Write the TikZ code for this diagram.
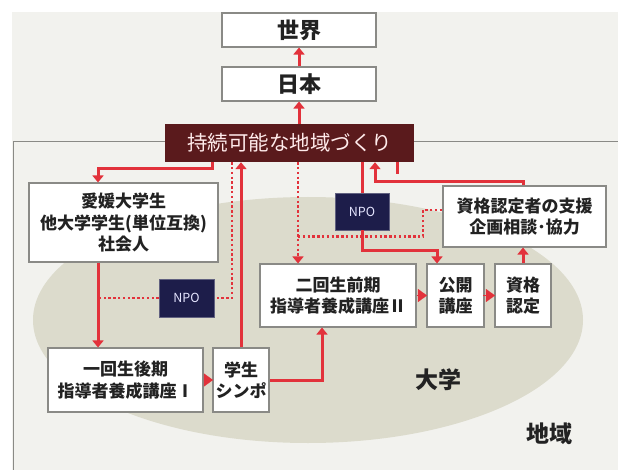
\documentclass[tikz,border=0pt]{standalone}
\usepackage{fontspec}
\setmainfont{Noto Sans CJK JP}
\usetikzlibrary{arrows.meta,calc}
\definecolor{redc}{HTML}{E2323B}
\definecolor{maroon}{HTML}{5A1A1C}
\definecolor{navy}{HTML}{1D1D4A}
\definecolor{bgc}{HTML}{F2F2EE}
\definecolor{ellc}{HTML}{DCDBCC}
\definecolor{boxgray}{HTML}{8A8A86}
\definecolor{txt}{HTML}{222222}
\tikzset{
  box/.style={draw=boxgray, fill=white, line width=1.1pt, inner sep=0pt, align=center,
    text=txt, font=\fontsize{17}{21.5}\selectfont\bfseries},
  bigbox/.style={box, font=\fontsize{22}{26}\selectfont\bfseries},
  susbox/.style={fill=maroon, inner sep=0pt, text=white!92!red, font=\fontsize{20.5}{24}\selectfont},
  npobox/.style={fill=navy, draw=navy!70!white, line width=0.6pt, inner sep=0pt, text=white!90!blue,
    font=\fontsize{12.5}{14}\selectfont},
  redline/.style={draw=redc, line width=3pt},
  arr/.style={redline, -{Triangle[width=11pt,length=7pt]}},
  arrsmall/.style={draw=redc, line width=0.1pt, -{Triangle[width=13pt,length=9pt]}, shorten >=-0.5pt},
  dotline/.style={draw=redc, line width=2.8pt, dash pattern=on 2.4pt off 2.4pt},
  dotarr/.style={dotline, -{Triangle[width=11pt,length=7pt]}},
  lbl/.style={text=txt, font=\fontsize{23}{26}\selectfont\bfseries, inner sep=0pt}
}
\begin{document}
\begin{tikzpicture}[x=1pt,y=-1pt]
\useasboundingbox (0,0) rectangle (618,470);
% background and region
\fill[bgc] (12,12) rectangle (618,470);
\draw[boxgray, line width=1pt] (618,142) -- (13,142) -- (13,470);
\fill[ellc] (308,320) ellipse [x radius=275, y radius=123];

% nodes
\node[bigbox, minimum width=154pt, minimum height=34pt] (world) at (299,30) {世界};
\node[bigbox, minimum width=154pt, minimum height=34pt] (japan) at (299,84) {日本};
\node[susbox, minimum width=249pt, minimum height=38pt] (sus) at (289.5,143) {持続可能な地域づくり};
\node[box, minimum width=189pt, minimum height=79pt] (ehime) at (123.5,222.5) {愛媛大学生\\他大学学生(単位互換)\\社会人};
\node[npobox, minimum width=55pt, minimum height=38pt] (npoa) at (186.5,298) {NPO};
\node[npobox, minimum width=54pt, minimum height=37pt] (npob) at (362,211.5) {NPO};
\node[box, minimum width=155pt, minimum height=64pt] (first) at (125.5,380) {一回生後期\\指導者養成講座Ⅰ};
\node[box, minimum width=56pt, minimum height=64pt] (symp) at (241,380) {学生\\シンポ};
\node[box, minimum width=156pt, minimum height=63pt] (second) at (338,295.5) {二回生前期\\指導者養成講座Ⅱ};
\node[box, minimum width=57pt, minimum height=63pt] (kokai) at (455.5,295.5) {公開\\講座};
\node[box, minimum width=56pt, minimum height=63pt] (shikaku) at (523,295.5) {資格\\認定};
\node[box, minimum width=163pt, minimum height=61pt] (support) at (524.5,216.5) {資格認定者の支援\\企画相談･協力};
\node[lbl] (univ) at (438,380) {大学};
\node[lbl] (region) at (549,434) {地域};

% connectors
\draw[arr] (japan.north) -- (world.south);
\draw[arr] (sus.north -| japan.south) -- (japan.south);
\draw[arr] ($(sus.south)+(-77.5,0)$) -- ++(0,6) -| ($(ehime.north)+(-25.5,0)$);
\draw[arr] ($(ehime.south)+(-25.5,0)$) -- ($(first.north)+(-27.5,0)$);
\draw[arrsmall] (first.east) -- (symp.west);
\draw[arr] (symp.north) -- (symp.north |- sus.south);
\draw[arr] (symp.east) -| ($(second.south)+(-16,0)$);
\draw[arrsmall] (second.east) -- (kokai.west);
\draw[arrsmall] (kokai.west -| shikaku.west) ++(-11,0) -- (shikaku.west);
\draw[arr] (shikaku.north) -- (shikaku.north |- support.south);
\draw[arr] ($(support.north)+(-1.5,0)$) -- ++(0,-4) -| ($(sus.south)+(85.5,0)$);
\draw[redline] (sus.south -| npob.north) -- (npob.north);
\draw[arr] (npob.south) -- ++(0,20) -| ($(kokai.north)+(-18.5,0)$);
\draw[redline] ($(sus.south)+(107.5,0)$) -- ++(0,12);
\draw[dotline] ($(sus.south)+(-57.5,0)$) |- (npoa.east);
\draw[dotline] (npoa.west) -- ++(-61,0);
\draw[dotarr] ($(sus.south)+(8.5,0)$) -- ($(second.north)+(-40,0)$);
\draw[dotline] ($(second.north)+(-40,-27)$) -- ++(125,0) |- ($(support.west)+(0,-6.5)$);
\end{tikzpicture}
\end{document}
